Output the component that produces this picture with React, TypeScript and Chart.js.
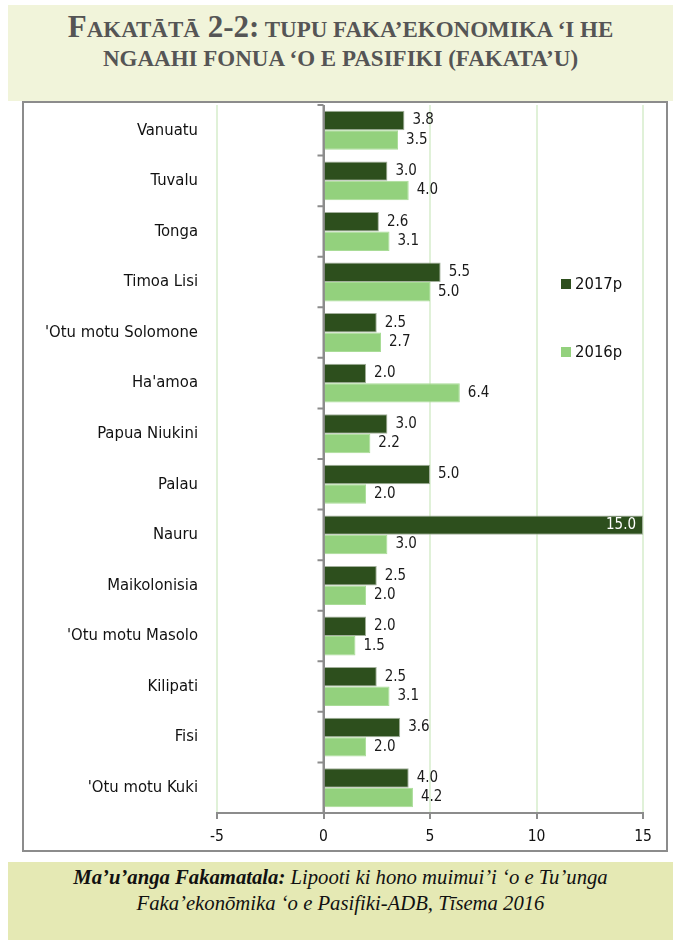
import React, { useEffect, useRef } from "react";
import { Chart, registerables } from "chart.js";

Chart.register(...registerables);

const categories = [
  "Vanuatu",
  "Tuvalu",
  "Tonga",
  "Timoa Lisi",
  "'Otu motu Solomone",
  "Ha'amoa",
  "Papua Niukini",
  "Palau",
  "Nauru",
  "Maikolonisia",
  "'Otu motu Masolo",
  "Kilipati",
  "Fisi",
  "'Otu motu Kuki",
];
const seriesNames = ["2017p", "2016p"];
const values2017 = [3.8, 3.0, 2.6, 5.5, 2.5, 2.0, 3.0, 5.0, 15.0, 2.5, 2.0, 2.5, 3.6, 4.0];
const values2016 = [3.5, 4.0, 3.1, 5.0, 2.7, 6.4, 2.2, 2.0, 3.0, 2.0, 1.5, 3.1, 2.0, 4.2];
const xMin = -5;
const xMax = 15;
const xStep = 5;

const DARK = "#2d4f1d";
const LIGHT = "#93d17d";
const AXIS_GRAY = "#8c8c8c";
const GRID_GREEN = "#e0f1d8";
const FONT = "'DejaVu Sans Condensed', 'DejaVu Sans', sans-serif";

const valueLabelPlugin = {
  id: "valueLabels",
  afterDatasetsDraw(chart: any) {
    const ctx = chart.ctx;
    const area = chart.chartArea;
    ctx.save();
    ctx.font = `15px ${FONT}`;
    ctx.textBaseline = "middle";
    chart.data.datasets.forEach((ds: any, di: number) => {
      const meta = chart.getDatasetMeta(di);
      meta.data.forEach((el: any, i: number) => {
        const v = ds.data[i];
        const txt = v.toFixed(1);
        const w = ctx.measureText(txt).width;
        if (el.x + 8 + w > area.right) {
          ctx.fillStyle = "#ffffff";
          ctx.textAlign = "right";
          ctx.fillText(txt, el.x - 7, el.y);
        } else {
          ctx.fillStyle = "#1a1a1a";
          ctx.textAlign = "left";
          ctx.fillText(txt, el.x + 8, el.y);
        }
      });
    });
    ctx.restore();
  },
};

const axisDecorPlugin = {
  id: "axisDecor",
  afterDatasetsDraw(chart: any) {
    const ctx = chart.ctx;
    const area = chart.chartArea;
    const x0 = chart.scales.x.getPixelForValue(0);
    const n = categories.length;
    const step = (area.bottom - area.top) / n;
    ctx.save();
    ctx.strokeStyle = AXIS_GRAY;
    ctx.lineWidth = 2;
    ctx.beginPath();
    ctx.moveTo(x0, area.top);
    ctx.lineTo(x0, area.bottom);
    for (let i = 0; i < n; i++) {
      const y = area.top + i * step;
      ctx.moveTo(x0 - 6, y);
      ctx.lineTo(x0, y);
    }
    ctx.stroke();
    ctx.restore();
  },
};

const legendPlugin = {
  id: "customLegend",
  afterDraw(chart: any) {
    const ctx = chart.ctx;
    const colors = [DARK, LIGHT];
    const ys = [181, 249];
    ctx.save();
    ctx.font = `16.5px ${FONT}`;
    ctx.textBaseline = "middle";
    ctx.textAlign = "left";
    seriesNames.forEach((name, i) => {
      ctx.fillStyle = colors[i];
      ctx.fillRect(537, ys[i] - 5, 10, 10);
      ctx.fillStyle = "#111111";
      ctx.fillText(name, 551, ys[i] + 1);
    });
    ctx.restore();
  },
};

function BarChart() {
  const ref = useRef<HTMLCanvasElement | null>(null);
  useEffect(() => {
    if (!ref.current) return;
    const chart = new Chart(ref.current, {
      type: "bar",
      data: {
        labels: categories,
        datasets: [
          {
            label: seriesNames[0],
            data: values2017,
            backgroundColor: DARK,
            borderColor: "#a3b09c",
            borderWidth: 1,
            categoryPercentage: 0.77,
            barPercentage: 1.0,
          },
          {
            label: seriesNames[1],
            data: values2016,
            backgroundColor: LIGHT,
            borderColor: "#a9dc97",
            borderWidth: 1,
            categoryPercentage: 0.77,
            barPercentage: 1.0,
          },
        ],
      },
      options: {
        indexAxis: "y",
        responsive: false,
        animation: false,
        layout: { padding: { top: 2, right: 23, left: 0, bottom: 0 } },
        plugins: {
          legend: { display: false },
          tooltip: { enabled: false },
          title: { display: false },
        },
        scales: {
          x: {
            type: "linear",
            position: "bottom",
            min: xMin,
            max: xMax,
            ticks: {
              stepSize: xStep,
              color: "#111111",
              font: { family: FONT, size: 15.5 },
              padding: 9,
            },
            grid: {
              color: (c: any) => (c.tick && c.tick.value === 0 ? AXIS_GRAY : GRID_GREEN),
              lineWidth: 2,
              tickColor: AXIS_GRAY,
              tickLength: 6,
              tickWidth: 2,
            },
            border: { display: true, color: AXIS_GRAY, width: 2 },
            afterFit: (s: any) => {
              s.height = 37;
              s.paddingLeft = 0;
              s.paddingRight = 0;
            },
          },
          y: {
            type: "category",
            position: "left",
            ticks: {
              color: "#111111",
              font: { family: FONT, size: 16.5 },
              padding: 19,
              autoSkip: false,
            },
            grid: { display: false, drawTicks: false },
            border: { display: false },
            afterFit: (s: any) => {
              s.width = 193;
              s.paddingTop = 0;
              s.paddingBottom = 0;
            },
          },
        },
      },
      plugins: [axisDecorPlugin, valueLabelPlugin, legendPlugin],
    } as any);
    return () => chart.destroy();
  }, []);
  return <canvas ref={ref} width={642} height={747} style={{ display: "block" }} />;
}

const serif = "'Liberation Serif', 'Times New Roman', serif";

export default function App() {
  const big = { fontSize: 31 };
  const small = { fontSize: 23 };
  return (
    <div style={{ position: "absolute", left: 0, top: 0, width: 673, height: 944, background: "#ffffff" }}>
      <div
        style={{
          position: "absolute",
          left: 8,
          top: 5,
          width: 665,
          height: 96,
          background: "#f1f4da",
          fontFamily: serif,
          fontWeight: "bold",
          color: "#555555",
          textAlign: "center",
        }}
      >
        <div style={{ position: "absolute", left: 0, right: 0, top: 5, height: 33, lineHeight: "33px", fontSize: 31, whiteSpace: "nowrap" }}>
          <span style={big}>F</span>
          <span style={small}>AKATĀTĀ</span>
          <span style={big}> 2-2:</span>
          <span style={small}> TUPU FAKA’EKONOMIKA ‘I HE</span>
        </div>
        <div style={{ position: "absolute", left: 0, right: 0, top: 37, height: 33, lineHeight: "33px", fontSize: 23, whiteSpace: "nowrap" }}>
          <span style={small}>NGAAHI FONUA ‘O E PASIFIKI (FAKATA’U)</span>
        </div>
      </div>

      <div
        style={{
          position: "absolute",
          left: 22,
          top: 101,
          width: 646,
          height: 751,
          boxSizing: "border-box",
          border: `2px solid ${AXIS_GRAY}`,
          background: "#ffffff",
        }}
      >
        <BarChart />
      </div>

      <div
        style={{
          position: "absolute",
          left: 8,
          top: 862,
          width: 665,
          height: 78,
          background: "#e5e9b4",
          fontFamily: serif,
          fontStyle: "italic",
          color: "#111111",
          textAlign: "center",
          fontSize: 20.7,
        }}
      >
        <div style={{ position: "absolute", left: 0, right: 0, top: 2, lineHeight: "26px", whiteSpace: "nowrap" }}>
          <span style={{ fontWeight: "bold" }}>Ma’u’anga Fakamatala:</span> Lipooti ki hono muimui’i ‘o e Tu’unga
        </div>
        <div style={{ position: "absolute", left: 0, right: 0, top: 28, lineHeight: "26px", whiteSpace: "nowrap" }}>
          Faka’ekonōmika ‘o e Pasifiki-ADB, Tīsema 2016
        </div>
      </div>
    </div>
  );
}
